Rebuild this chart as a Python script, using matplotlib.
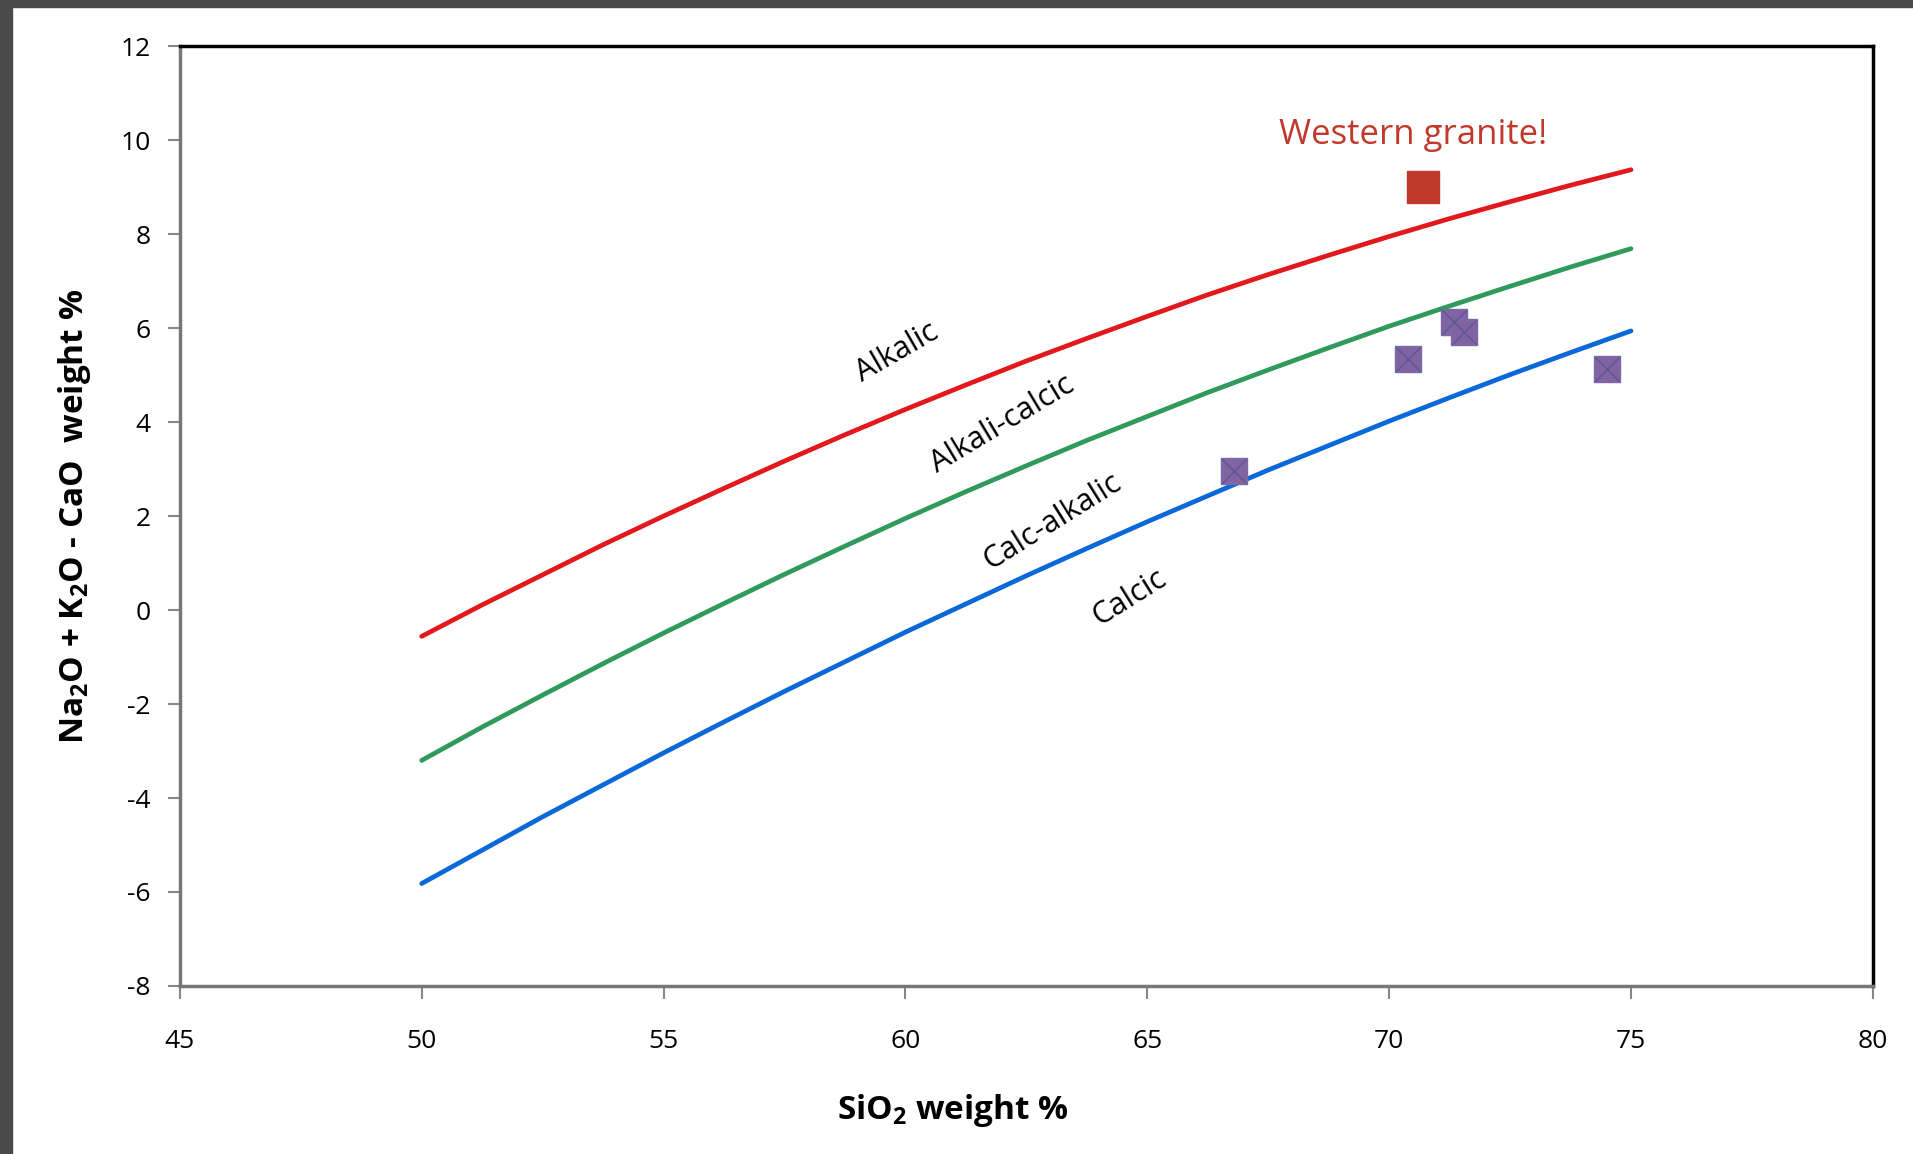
import matplotlib
matplotlib.use('Agg')
import matplotlib.pyplot as plt
import matplotlib.patches as mpatches

plt.rcParams['font.family'] = ['Open Sans', 'DejaVu Sans']
plt.rcParams['mathtext.fontset'] = 'custom'
plt.rcParams['mathtext.rm'] = 'Open Sans'
plt.rcParams['mathtext.bf'] = 'Open Sans:bold'
plt.rcParams['axes.unicode_minus'] = False

# boundary curves
sio2 = [50, 51.25, 52.5, 53.75, 55, 56.25, 57.5, 58.75, 60, 61.25, 62.5,
        63.75, 65, 66.25, 67.5, 68.75, 70, 71.25, 72.5, 73.75, 75]
alkalic = [-0.56, 0.11, 0.75, 1.39, 2.00, 2.59, 3.17, 3.73, 4.27, 4.79, 5.30,
           5.78, 6.25, 6.71, 7.14, 7.55, 7.95, 8.33, 8.69, 9.04, 9.37]
alkali_calcic = [-3.20, -2.49, -1.81, -1.14, -0.49, 0.14, 0.76, 1.36, 1.95, 2.52, 3.07,
                 3.61, 4.12, 4.63, 5.11, 5.58, 6.04, 6.47, 6.89, 7.30, 7.69]
calc_alkalic = [-5.82, -5.11, -4.40, -3.72, -3.04, -2.38, -1.73, -1.10, -0.47, 0.13, 0.73,
                1.31, 1.88, 2.43, 2.98, 3.50, 4.02, 4.52, 5.01, 5.48, 5.94]

# samples
samp_x = [66.8, 70.4, 71.35, 71.55, 74.5]
samp_y = [2.95, 5.35, 6.13, 5.92, 5.14]
wg_x = [70.7]
wg_y = [9.0]

fig = plt.figure(figsize=(19.13, 11.54), dpi=100)
# dark frame on top/left edges
fig.patches.append(mpatches.Rectangle((0, 1 - 7/1154), 1, 7/1154, transform=fig.transFigure,
                                      color='#4a4a4a', zorder=-1))
fig.patches.append(mpatches.Rectangle((0, 0), 12/1913, 1, transform=fig.transFigure,
                                      color='#4a4a4a', zorder=-1))

ax = fig.add_axes([0.094, 0.1456, 0.885, 0.8144])

ax.plot(sio2, alkalic, color='#e2191c', lw=3.4, solid_capstyle='round')
ax.plot(sio2, alkali_calcic, color='#2f9a5c', lw=3.4, solid_capstyle='round')
ax.plot(sio2, calc_alkalic, color='#0a68d8', lw=3.4, solid_capstyle='round')

ax.scatter(samp_x, samp_y, marker='s', s=330, color='#8064a2', edgecolors='#7a6aa8', zorder=3)
ax.scatter(samp_x, samp_y, marker='x', s=300, color='#5e5496', linewidths=1.0, zorder=4)
ax.scatter(wg_x, wg_y, marker='s', s=560, color='#c0392b', zorder=3)

ax.text(70.5, 10.1, 'Western granite!', color='#c0392b', fontsize=25, ha='center', va='center')
ax.text(59.83, 5.48, 'Alkalic', fontsize=22, rotation=30, ha='center', va='center', rotation_mode='anchor')
ax.text(62.0, 3.95, 'Alkali-calcic', fontsize=22, rotation=31, ha='center', va='center', rotation_mode='anchor')
ax.text(63.03, 1.87, 'Calc-alkalic', fontsize=22, rotation=32, ha='center', va='center', rotation_mode='anchor')
ax.text(64.62, 0.26, 'Calcic', fontsize=22, rotation=32, ha='center', va='center', rotation_mode='anchor')

ax.set_xlim(45, 80)
ax.set_ylim(-8, 12)
ax.set_xticks(range(45, 81, 5))
ax.set_yticks(range(-8, 13, 2))
ax.tick_params(direction='out', length=9, width=1.5, color='#888888', labelsize=19)
ax.tick_params(axis='x', pad=22)
ax.tick_params(axis='y', pad=12)

for s in ['left', 'bottom']:
    ax.spines[s].set_color('#777777')
    ax.spines[s].set_linewidth(2.5)
for s in ['top', 'right']:
    ax.spines[s].set_color('black')
    ax.spines[s].set_linewidth(2.5)

ax.set_xlabel(r'SiO$_\mathbf{2}$ weight %', fontsize=24, fontweight='bold')
ax.xaxis.set_label_coords((781 - 147) / 1388, -0.113)
ax.set_ylabel(r'Na$_\mathbf{2}$O + K$_\mathbf{2}$O - CaO  weight %', fontsize=24, fontweight='bold', labelpad=20)

fig.savefig('out.png', dpi=100)
